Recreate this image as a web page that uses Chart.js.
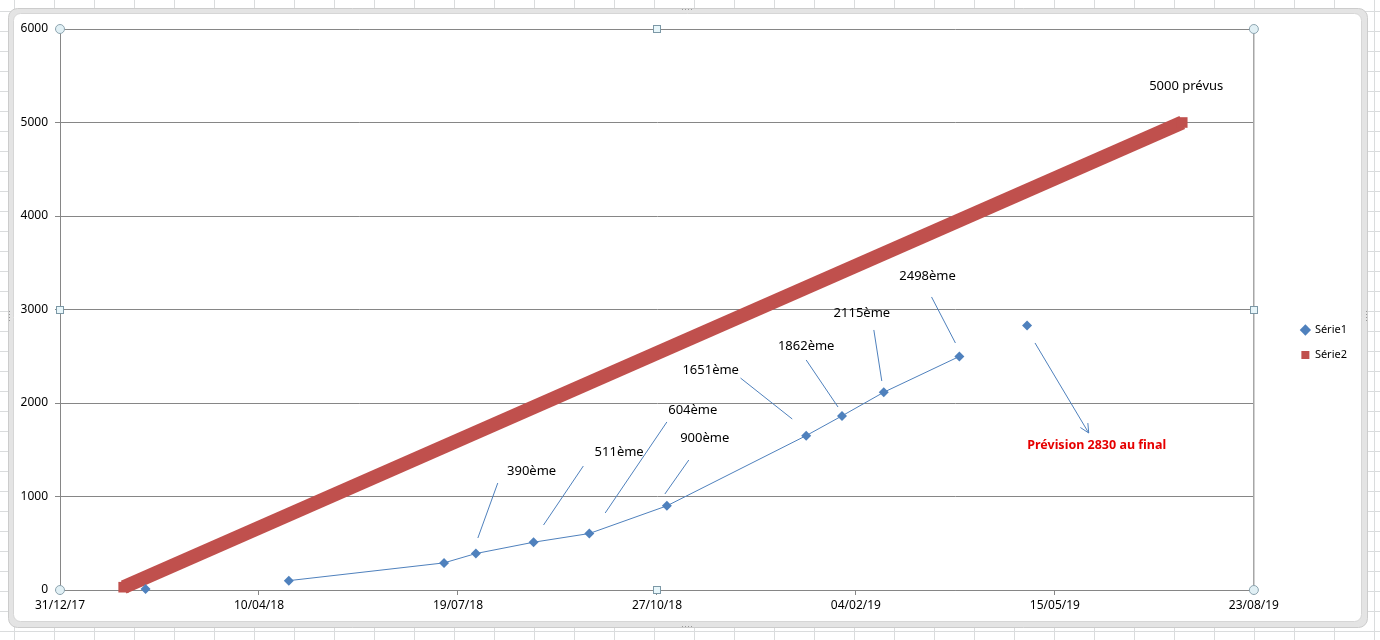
<!DOCTYPE html>
<html lang="fr">
<head>
<meta charset="utf-8">
<title>Série1 / Série2</title>
<script src="https://cdn.jsdelivr.net/npm/chart.js@4.4.1/dist/chart.umd.min.js"></script>
<style>
  html, body { margin: 0; padding: 0; background: #fff; }
  canvas { display: block; }
</style>
</head>
<body>
<canvas id="graphique" width="1380" height="640"></canvas>
<script>
// Série1 : relevés (date, rang atteint)
const serie1Dates = ['2018-02-12', '2018-04-25', '2018-07-12', '2018-07-28', '2018-08-26', '2018-09-23',
                     '2018-11-01', '2019-01-10', '2019-01-28', '2019-02-18', '2019-03-28', '2019-05-01'];
const serie1Valeurs = [10, 100, 290, 390, 511, 604, 900, 1651, 1862, 2115, 2498, 2830];
// points affichés seuls, sans trait vers leurs voisins
const serie1NonRelies = [0, 11];

// Série2 : objectif
const serie2Dates = ['2018-02-01', '2019-07-18'];
const serie2Valeurs = [30, 5000];

const nomsSeries = ['Série1', 'Série2'];

// graduations
const ticksXDates = ['2017-12-31', '2018-04-10', '2018-07-19', '2018-10-27', '2019-02-04', '2019-05-15', '2019-08-23'];
const ticksY = [0, 1000, 2000, 3000, 4000, 5000, 6000];

const police = "'Noto Sans', 'DejaVu Sans', sans-serif";
const bleu = '#4F81BD';
const rouge = '#C0504D';
const gris = '#868686';

// date ISO -> numéro de série Excel (jours)
function versSerie(iso) {
    const [a, m, j] = iso.split('-').map(Number);
    return Date.UTC(a, m - 1, j) / 86400000 + 25569;
}

// numéro de série -> jj/mm/aa
function versTexte(serie) {
    const d = new Date((serie - 25569) * 86400000);
    const jj = String(d.getUTCDate()).padStart(2, '0');
    const mm = String(d.getUTCMonth() + 1).padStart(2, '0');
    const aa = String(d.getUTCFullYear()).slice(2);
    return `${jj}/${mm}/${aa}`;
}

const ticksX = ticksXDates.map(versSerie);

// Bulles de texte ajoutées à la main (coordonnées en unités des axes : jour Excel, valeur)
const etiquettes = [
    { texte: '390ème', x: 43337, y: 1273, trait: [43320, 1144, 43310, 556] },
    { texte: '511ème', x: 43381, y: 1476, trait: [43363, 1326, 43343, 695] },
    { texte: '604ème', x: 43418, y: 1925, trait: [43405, 1797, 43374, 824] },
    { texte: '900ème', x: 43424, y: 1626, trait: [43416, 1390, 43404, 1027] },
    { texte: '1651ème', x: 43427, y: 2353, trait: [43442, 2267, 43468, 1829] },
    { texte: '1862ème', x: 43475, y: 2610, trait: [43475, 2460, 43491, 1957] },
    { texte: '2115ème', x: 43503, y: 2963, trait: [43509, 2781, 43513, 2235] },
    { texte: '2498ème', x: 43536, y: 3358, trait: [43538, 3134, 43550, 2642] },
    { texte: '5000 prévus', x: 43666, y: 5390 }
];
const prevision = { texte: 'Prévision 2830 au final', x: 43621, y: 1551, fleche: [43590, 2642, 43617, 1679] };

const cadreExcel = {
    id: 'cadreExcel',
    beforeDraw(chart) {
        const { ctx, width, height } = chart;
        ctx.save();
        ctx.fillStyle = '#ffffff';
        ctx.fillRect(0, 0, width, height);
        // quadrillage de la feuille
        ctx.strokeStyle = '#dadcdd';
        ctx.lineWidth = 1;
        ctx.beginPath();
        for (let x = 14.5; x < width; x += 40) { ctx.moveTo(x, 0); ctx.lineTo(x, height); }
        for (let y = 11.5; y < height; y += 20) { ctx.moveTo(0, y); ctx.lineTo(width, y); }
        ctx.stroke();
        // cadre de l'objet graphique
        ctx.fillStyle = '#e4e4e4';
        ctx.strokeStyle = '#cccccc';
        ctx.beginPath();
        ctx.roundRect(8.5, 8.5, 1359, 619, 9);
        ctx.fill();
        ctx.stroke();
        ctx.fillStyle = '#ffffff';
        ctx.strokeStyle = '#d6d6d6';
        ctx.beginPath();
        ctx.roundRect(13.5, 13.5, 1348, 608, 7);
        ctx.fill();
        ctx.stroke();
        // petites poignées pointillées du cadre
        ctx.fillStyle = '#9a9a9a';
        for (let i = 0; i < 4; i++) {
            ctx.fillRect(682 + i * 3, 9, 1, 1);
            ctx.fillRect(682 + i * 3, 626, 1, 1);
            ctx.fillRect(9, 311 + i * 3, 1, 1);
            ctx.fillRect(1366, 311 + i * 3, 1, 1);
        }
        ctx.restore();
    },
    afterDatasetsDraw(chart) {
        const { ctx } = chart;
        const sx = chart.scales.x;
        const sy = chart.scales.y;
        const px = v => sx.getPixelForValue(v);
        const py = v => sy.getPixelForValue(v);
        ctx.save();
        ctx.strokeStyle = bleu;
        ctx.lineWidth = 1;
        ctx.textAlign = 'center';
        ctx.textBaseline = 'middle';
        ctx.font = `13px ${police}`;
        ctx.fillStyle = '#000';
        etiquettes.forEach(e => {
            if (e.trait) {
                const [x1, y1, x2, y2] = e.trait;
                ctx.beginPath();
                ctx.moveTo(px(x1), py(y1));
                ctx.lineTo(px(x2), py(y2));
                ctx.stroke();
            }
            ctx.fillText(e.texte, px(e.x), py(e.y));
        });
        // flèche vers la prévision
        const [fx1, fy1, fx2, fy2] = prevision.fleche;
        const ax = px(fx1), ay = py(fy1), bx = px(fx2), by = py(fy2);
        const angle = Math.atan2(by - ay, bx - ax);
        ctx.beginPath();
        ctx.moveTo(ax, ay);
        ctx.lineTo(bx, by);
        ctx.moveTo(bx - 10 * Math.cos(angle - 0.45), by - 10 * Math.sin(angle - 0.45));
        ctx.lineTo(bx, by);
        ctx.lineTo(bx - 10 * Math.cos(angle + 0.45), by - 10 * Math.sin(angle + 0.45));
        ctx.stroke();
        ctx.font = `bold 12.5px ${police}`;
        ctx.fillStyle = '#e60000';
        ctx.fillText(prevision.texte, px(prevision.x), py(prevision.y));
        ctx.restore();
    },
    afterDraw(chart) {
        // poignées de sélection de la zone de traçage
        const { ctx, chartArea: a } = chart;
        const mx = (a.left + a.right) / 2;
        const my = (a.top + a.bottom) / 2;
        ctx.save();
        ctx.lineWidth = 1;
        ctx.strokeStyle = '#8ea5b0';
        ctx.fillStyle = '#e1f0f5';
        [[a.left, a.top], [a.right, a.top], [a.left, a.bottom], [a.right, a.bottom]].forEach(([x, y]) => {
            ctx.beginPath();
            ctx.arc(x, y, 4.5, 0, Math.PI * 2);
            ctx.fill();
            ctx.stroke();
        });
        ctx.strokeStyle = '#7c98a6';
        ctx.fillStyle = '#e8f6fa';
        [[mx, a.top], [mx, a.bottom], [a.left, my], [a.right, my]].forEach(([x, y]) => {
            ctx.fillRect(Math.round(x) - 3.5, Math.round(y) - 3.5, 7, 7);
            ctx.strokeRect(Math.round(x) - 3.5, Math.round(y) - 3.5, 7, 7);
        });
        ctx.restore();
    }
};

const ctx = document.getElementById('graphique').getContext('2d');

new Chart(ctx, {
    type: 'line',
    data: {
        datasets: [
            {
                label: nomsSeries[0],
                data: serie1Dates.map((d, i) => ({ x: versSerie(d), y: serie1Valeurs[i] })),
                borderColor: bleu,
                backgroundColor: bleu,
                borderWidth: 1,
                pointStyle: 'rectRot',
                pointRadius: 5,
                pointBorderWidth: 0,
                clip: false,
                segment: {
                    borderColor: c => (serie1NonRelies.includes(c.p0DataIndex) || serie1NonRelies.includes(c.p1DataIndex))
                        ? 'rgba(0,0,0,0)' : bleu
                }
            },
            {
                label: nomsSeries[1],
                data: serie2Dates.map((d, i) => ({ x: versSerie(d), y: serie2Valeurs[i] })),
                borderColor: rouge,
                backgroundColor: rouge,
                borderWidth: 14,
                borderCapStyle: 'butt',
                pointStyle: 'rect',
                pointRadius: 7.5,
                pointBorderWidth: 0,
                clip: false
            }
        ]
    },
    options: {
        responsive: false,
        animation: false,
        events: [],
        layout: {
            padding: { left: 0, top: 29, right: 23, bottom: 0 }
        },
        scales: {
            x: {
                type: 'linear',
                min: ticksX[0],
                max: ticksX[ticksX.length - 1],
                afterBuildTicks: s => { s.ticks = ticksX.map(v => ({ value: v })); },
                afterFit: s => { s.height = 50; },
                ticks: {
                    autoSkip: false,
                    maxRotation: 0,
                    padding: 3,
                    color: '#000',
                    font: { family: police, size: 12 },
                    callback: v => versTexte(v)
                },
                grid: { drawOnChartArea: false, drawTicks: true, tickLength: 5, color: gris },
                border: { color: gris }
            },
            y: {
                min: ticksY[0],
                max: ticksY[ticksY.length - 1],
                afterBuildTicks: s => { s.ticks = ticksY.map(v => ({ value: v })); },
                afterFit: s => { s.width = 60; },
                ticks: {
                    padding: 7,
                    color: '#000',
                    font: { family: police, size: 12 },
                    callback: v => String(v)
                },
                grid: { color: gris, tickLength: 5 },
                border: { color: gris }
            },
            // axe vide : bordure droite de la zone de traçage et marge avant la légende
            y2: {
                position: 'right',
                display: true,
                afterFit: s => { s.width = 33.5; },
                ticks: { display: false },
                grid: { display: false },
                border: { display: true, color: '#a6a6a6', width: 1.5 }
            }
        },
        plugins: {
            tooltip: { enabled: false },
            legend: {
                position: 'right',
                title: { display: true, text: '', font: { size: 10 }, padding: 2 },
                labels: {
                    usePointStyle: true,
                    boxWidth: 8,
                    boxHeight: 8,
                    padding: 14,
                    color: '#000',
                    font: { family: police, size: 11 },
                    generateLabels: function(chart) {
                        const items = Chart.defaults.plugins.legend.labels.generateLabels(chart);
                        return items.map(item => ({ ...item, lineWidth: 0, strokeStyle: item.fillStyle }));
                    }
                }
            }
        }
    },
    plugins: [cadreExcel]
});
</script>
</body>
</html>
